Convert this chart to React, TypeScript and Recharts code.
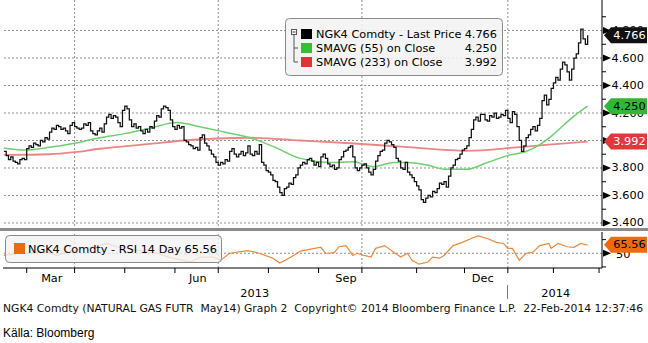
import React from "react";
import { ComposedChart, Line, XAxis, YAxis, ReferenceLine } from "recharts";

const FONT = "'DejaVu Sans', Verdana, sans-serif";
const FS = 11.3;

// daily closes, NGK4, mid-Feb 2013 .. 21-Feb-2014
const closes = [
  3.92, 3.89, 3.86, 3.88, 3.85, 3.84, 3.83, 3.86, 3.87, 3.86,
  3.94, 3.96, 3.95, 3.98, 3.97, 3.96, 4.0, 3.99, 4.02, 4.01,
  4.06, 4.09, 4.08, 4.11, 4.1, 4.08, 4.09, 4.07, 4.05, 4.11,
  4.13, 4.1, 4.09, 4.08, 4.09, 4.12, 4.11, 4.13, 4.07, 4.05,
  4.04, 4.07, 4.09, 4.06, 4.12, 4.17, 4.19, 4.16, 4.18, 4.17,
  4.13, 4.1, 4.22, 4.25, 4.23, 4.15, 4.1, 4.12, 4.09, 4.1,
  4.07, 4.05, 4.08, 4.06, 4.1, 4.09, 4.14, 4.18, 4.17, 4.23,
  4.25, 4.24, 4.22, 4.15, 4.1, 4.08, 4.11, 4.09, 4.1, 4.0,
  3.99, 3.97, 3.96, 3.94, 3.95, 3.93, 4.02, 4.04, 3.98, 3.96,
  3.93, 3.9, 3.88, 3.84, 3.82, 3.84, 3.83, 3.86, 3.85, 3.92,
  3.94, 3.9, 3.88, 3.9, 3.92, 3.89, 3.91, 3.96, 3.9, 3.89,
  3.92, 3.9, 3.97, 3.84, 3.82, 3.78, 3.77, 3.75, 3.71, 3.7,
  3.66, 3.62, 3.6, 3.65, 3.66, 3.69, 3.68, 3.73, 3.75, 3.8,
  3.82, 3.84, 3.83, 3.86, 3.87, 3.85, 3.82, 3.84, 3.81, 3.88,
  3.9, 3.87, 3.83, 3.81, 3.82, 3.79, 3.8, 3.86, 3.88, 3.92,
  3.93, 3.95, 3.96, 3.88, 3.8, 3.78, 3.8, 3.82, 3.83, 3.8,
  3.77, 3.75, 3.79, 3.85, 3.89, 3.92, 3.93, 3.98, 4.0, 3.99,
  3.97, 3.95, 3.87, 3.85, 3.8, 3.79, 3.84, 3.77, 3.75, 3.73,
  3.7, 3.67, 3.64, 3.57, 3.55, 3.58, 3.6, 3.59, 3.63, 3.62,
  3.65, 3.69, 3.68, 3.7, 3.66, 3.74, 3.8, 3.82, 3.86, 3.87,
  3.9, 3.93, 3.94, 3.96, 4.02, 4.08, 4.15, 4.17, 4.14, 4.19,
  4.19, 4.15, 4.14, 4.18, 4.17, 4.2, 4.16, 4.17, 4.19, 4.18,
  4.22, 4.16, 4.13, 4.21, 4.19, 4.1, 4.0, 3.92, 3.96, 4.02,
  4.04, 4.08, 4.1, 4.07, 4.11, 4.16, 4.29, 4.33, 4.26, 4.3,
  4.38, 4.42, 4.46, 4.44, 4.52, 4.57, 4.55, 4.5, 4.44, 4.52,
  4.6, 4.63, 4.71, 4.81, 4.74, 4.7, 4.766,
];

const sma55Idx = [0, 9, 20, 31, 42, 53, 64, 76, 86, 97, 108, 119, 130, 144, 153, 162, 171, 177, 186, 194, 203, 212, 221, 229, 235, 240, 246, 251, 256];
const sma55Vals = [3.945, 3.93, 3.95, 3.98, 4.02, 4.05, 4.09, 4.13, 4.1, 4.06, 4.02, 3.95, 3.87, 3.84, 3.845, 3.81, 3.84, 3.84, 3.82, 3.79, 3.79, 3.84, 3.89, 3.92, 3.97, 4.03, 4.12, 4.19, 4.25];

const sma233Idx = [0, 20, 31, 42, 64, 79, 108, 130, 152, 174, 196, 203, 225, 239, 256];
const sma233Vals = [3.895, 3.9, 3.915, 3.94, 3.975, 4.0, 4.02, 4.0, 3.98, 3.955, 3.93, 3.925, 3.95, 3.97, 3.992];

const rsiIdx = [0, 7, 13, 18, 23, 30, 36, 42, 45, 50, 54, 60, 67, 74, 82, 86, 92, 95, 99, 107, 112, 118, 121, 126, 130, 134, 139, 141, 143, 145, 147, 150, 153, 155, 158, 161, 163, 167, 171, 174, 177, 179, 182, 186, 188, 191, 193, 197, 201, 206, 208, 212, 216, 219, 221, 223, 226, 229, 232, 235, 239, 240, 243, 247, 250, 253, 255, 256];
const rsiVals = [46, 50, 50, 54, 46, 55, 59, 64, 68, 61, 59, 55, 50, 41, 34, 43, 43, 37, 50, 55, 50, 41, 32, 43, 54, 57, 61, 50, 50, 52, 62, 64, 46, 50, 46, 43, 59, 64, 52, 43, 50, 37, 30, 34, 43, 41, 46, 64, 70, 79, 82, 77, 70, 68, 59, 59, 37, 50, 52, 64, 68, 59, 68, 62, 61, 68, 66, 65.56];

// x axis (trading-day index)
const monthStarts = [10, 31, 53, 75, 94, 116, 138, 157, 181, 202, 221, 241, 261];
const quarterStarts = [31, 94, 157, 221];
const monthLabelPos = [21, 85, 150, 210];
const monthLabels = ["Mar", "Jun", "Sep", "Dec"];
const yearPos = [110, 242];
const yearLabels = ["2013", "2014"];

const priceTicks = [3.4, 3.5, 3.6, 3.7, 3.8, 3.9, 4.0, 4.1, 4.2, 4.3, 4.4, 4.5, 4.6, 4.7, 4.8, 4.9];
const priceGrid = [3.4, 3.6, 3.8, 4.0, 4.2, 4.4, 4.6, 4.8];
const rsiTicks = [25, 50, 75];

const lastClose = 4.766;
const lastSma55 = 4.25;
const lastSma233 = 3.992;
const lastRsi = 65.56;

const X_DOMAIN: [number, number] = [-0.4, 262.3];
const PRICE_DOMAIN: [number, number] = [3.378, 5.022];
const RSI_DOMAIN: [number, number] = [23, 89];

const priceRows = closes.map((c, i) => ({ i, close: c, sma55: null as number | null, sma233: null as number | null }));
sma55Idx.forEach((ix, k) => (priceRows[ix].sma55 = sma55Vals[k]));
sma233Idx.forEach((ix, k) => (priceRows[ix].sma233 = sma233Vals[k]));

const rsiRows = closes.map((_, i) => ({ i, rsi: null as number | null }));
rsiIdx.forEach((ix, k) => (rsiRows[ix].rsi = rsiVals[k]));

function PriceTick(props: any) {
  const { x, y, payload } = props;
  const major = Math.round(payload.value * 10) % 2 === 0;
  if (!major) return <line x1={x} x2={x + 4} y1={y} y2={y} stroke="#000" />;
  return (
    <g>
      <path d={`M${x + 1} ${y - 3.5}L${x + 9} ${y}L${x + 1} ${y + 3.5}Z`} fill="#000" />
      <text x={x + 9.5} y={y} dominantBaseline="central" fontSize={FS} fontFamily={FONT} fill="#000">
        {payload.value.toFixed(3)}
      </text>
    </g>
  );
}

function RsiTick(props: any) {
  const { x, y, payload } = props;
  if (payload.value !== 50) return <line x1={x} x2={x + 4} y1={y} y2={y} stroke="#000" />;
  return (
    <g>
      <path d={`M${x + 1} ${y - 3.5}L${x + 9} ${y}L${x + 1} ${y + 3.5}Z`} fill="#000" />
      <text x={x + 14} y={y + 1} dominantBaseline="central" fontSize={FS} fontFamily={FONT} fill="#000">
        {payload.value}
      </text>
    </g>
  );
}

function MonthTick(props: any) {
  const { x, y, payload } = props;
  const k = monthLabelPos.indexOf(payload.value);
  return (
    <text x={x} y={y} textAnchor="middle" dominantBaseline="central" fontSize={FS} fontFamily={FONT} fill="#000">
      {monthLabels[k]}
    </text>
  );
}

function YearTick(props: any) {
  const { x, y, payload } = props;
  const k = yearPos.indexOf(payload.value);
  return (
    <text x={x} y={y} textAnchor="middle" dominantBaseline="central" fontSize={FS} fontFamily={FONT} fill="#000">
      {yearLabels[k]}
    </text>
  );
}

function ValueTag(props: any) {
  const { viewBox, fill, color, text } = props;
  if (!viewBox) return null;
  const x = viewBox.x + viewBox.width + 2;
  const y = viewBox.y;
  return (
    <g>
      <path d={`M${x} ${y}L${x + 7} ${y - 8}L${x + 43} ${y - 8}L${x + 43} ${y + 8}L${x + 7} ${y + 8}Z`} fill={fill} />
      <text x={x + 25.5} y={y} textAnchor="middle" dominantBaseline="central" fontSize={FS} fontFamily={FONT} fill={color}>
        {text}
      </text>
    </g>
  );
}

const grid = { stroke: "#8f8f8f", strokeDasharray: "2 2", strokeWidth: 1 };
const MARGIN = { top: 0, right: 0, bottom: 6, left: 3 };
const MARGIN_RSI = { top: 0, right: 0, bottom: 0, left: 3 };

// invisible axes, used only so the value tags sit above the axis labels
const ghostY = { orientation: "right" as const, width: 46, allowDataOverflow: true, tick: false, tickLine: false, axisLine: false };

const FOOTER = "NGK4 Comdty (NATURAL GAS FUTR  May14) Graph 2  Copyright\u00a9 2014 Bloomberg Finance L.P.  22-Feb-2014 12:37:46";

export default function App() {
  return (
    <div style={{ position: "absolute", left: 0, top: 0, width: 648, height: 343, background: "#fff" }}>
      <div style={{ position: "absolute", left: 0, top: 0 }}>
        <ComposedChart width={648} height={232} data={priceRows} margin={MARGIN}>
          {priceGrid.map((v) => (
            <ReferenceLine key={v} y={v} {...grid} />
          ))}
          {quarterStarts.map((q) => (
            <ReferenceLine key={q} x={q} {...grid} />
          ))}
          <XAxis dataKey="i" type="number" domain={X_DOMAIN} allowDataOverflow hide />
          <YAxis
            orientation="right"
            width={46}
            domain={PRICE_DOMAIN}
            allowDataOverflow
            ticks={priceTicks}
            interval={0}
            tick={PriceTick}
            tickLine={false}
            tickSize={0}
            tickMargin={0}
            axisLine={{ stroke: "#000" }}
          />
          <Line dataKey="sma233" type="monotone" stroke="#ee8585" strokeWidth={1.8} dot={false} connectNulls isAnimationActive={false} />
          <Line dataKey="sma55" type="monotone" stroke="#6fcf6f" strokeWidth={1.5} dot={false} connectNulls isAnimationActive={false} />
          <Line dataKey="close" type="stepAfter" stroke="#111" strokeWidth={1.25} dot={false} isAnimationActive={false} />
        </ComposedChart>
      </div>
      <div style={{ position: "absolute", left: 0, top: 232 }}>
        <ComposedChart width={648} height={111} data={rsiRows} margin={MARGIN_RSI}>
          <ReferenceLine y={50} {...grid} />
          {quarterStarts.map((q) => (
            <ReferenceLine key={q} x={q} {...grid} />
          ))}
          <XAxis
            xAxisId={0}
            dataKey="i"
            type="number"
            domain={X_DOMAIN}
            allowDataOverflow
            ticks={monthStarts}
            interval={0}
            height={10}
            tickSize={5}
            tick={() => <g />}
            axisLine={{ stroke: "#000" }}
            tickLine={{ stroke: "#000" }}
          />
          <XAxis
            xAxisId={1}
            dataKey="i"
            type="number"
            domain={X_DOMAIN}
            allowDataOverflow
            ticks={monthLabelPos}
            interval={0}
            height={15}
            tickSize={0}
            tickMargin={0}
            tickLine={false}
            axisLine={false}
            tick={MonthTick}
          />
          <XAxis
            xAxisId={2}
            dataKey="i"
            type="number"
            domain={X_DOMAIN}
            allowDataOverflow
            ticks={yearPos}
            interval={0}
            height={50}
            tickSize={0}
            tickMargin={0}
            tickLine={false}
            axisLine={false}
            tick={YearTick}
          />
          <YAxis
            orientation="right"
            width={46}
            domain={RSI_DOMAIN}
            allowDataOverflow
            ticks={rsiTicks}
            interval={0}
            tick={RsiTick}
            tickLine={false}
            tickSize={0}
            tickMargin={0}
            axisLine={{ stroke: "#000" }}
          />
          <Line dataKey="rsi" type="linear" stroke="#f0883a" strokeWidth={1.2} dot={false} connectNulls isAnimationActive={false} />
        </ComposedChart>
      </div>
      {/* value tags on top of the axis labels */}
      <div style={{ position: "absolute", left: 0, top: 0, pointerEvents: "none" }}>
        <ComposedChart width={648} height={232} data={priceRows} margin={MARGIN}>
          <XAxis dataKey="i" type="number" domain={X_DOMAIN} allowDataOverflow hide />
          <YAxis {...ghostY} domain={PRICE_DOMAIN} />
          <ReferenceLine y={lastClose} stroke="none" label={<ValueTag fill="#111" color="#fff" text="4.766" />} />
          <ReferenceLine y={lastSma55} stroke="none" label={<ValueTag fill="#35b535" color="#000" text="4.250" />} />
          <ReferenceLine y={lastSma233} stroke="none" label={<ValueTag fill="#df3a3a" color="#fff" text="3.992" />} />
        </ComposedChart>
      </div>
      <div style={{ position: "absolute", left: 0, top: 232, pointerEvents: "none" }}>
        <ComposedChart width={648} height={111} data={rsiRows} margin={MARGIN_RSI}>
          <XAxis dataKey="i" type="number" domain={X_DOMAIN} allowDataOverflow height={75} tick={false} tickLine={false} axisLine={false} />
          <YAxis {...ghostY} domain={RSI_DOMAIN} />
          <ReferenceLine y={lastRsi} stroke="none" label={<ValueTag fill="#f06a0a" color="#000" text="65.56" />} />
        </ComposedChart>
      </div>
      <svg
        width={648}
        height={343}
        style={{ position: "absolute", left: 0, top: 0, pointerEvents: "none" }}
        fontFamily={FONT}
        fontSize={FS}
      >
        <rect x={0} y={228} width={648} height={3} fill="#8c8c8c" />
        {/* price legend */}
        <rect x={285.5} y={18.5} width={217} height={57} rx={4} fill="#f2f2f2" fillOpacity={0.88} stroke="#8a8a8a" />
        <rect x={291.5} y={29.5} width={5} height={5} fill="#fff" stroke="#555" />
        <line x1={292.5} x2={295.5} y1={32} y2={32} stroke="#333" />
        <path d="M294 35V62H298M294 48H298" fill="none" stroke="#555" />
        <rect x={301} y={29} width={11} height={10} fill="#000" />
        <rect x={301} y={43} width={11} height={10} fill="#33c133" />
        <rect x={301} y={57} width={11} height={10} fill="#e03535" />
        <g dominantBaseline="central" fill="#000">
          <text x={316} y={34}>NGK4 Comdty - Last Price</text>
          <text x={497} y={34} textAnchor="end">4.766</text>
          <text x={316} y={48}>SMAVG (55) on Close</text>
          <text x={497} y={48} textAnchor="end">4.250</text>
          <text x={316} y={62}>SMAVG (233) on Close</text>
          <text x={497} y={62} textAnchor="end">3.992</text>
        </g>
        {/* rsi legend */}
        <rect x={5.5} y={235.5} width={216} height={27} rx={4} fill="#f2f2f2" fillOpacity={0.8} stroke="#8a8a8a" />
        <rect x={14} y={243} width={11} height={11} fill="#f06a0a" />
        <text x={28} y={249} dominantBaseline="central" fill="#000">NGK4 Comdty - RSI 14 Day 65.56</text>
        {/* year separator */}
        <line x1={507.5} x2={507.5} y1={285} y2={299} stroke="#777" />
        <text
          x={3}
          y={308}
          dominantBaseline="central"
          fill="#111"
          fontSize={10.4}
          textLength={640}
          lengthAdjust="spacingAndGlyphs"
          style={{ whiteSpace: "pre" }}
        >
          {FOOTER}
        </text>
        <text x={3} y={333} dominantBaseline="central" fontFamily="'Liberation Sans', sans-serif" fontSize={12} fill="#000">
          Källa: Bloomberg
        </text>
      </svg>
    </div>
  );
}
